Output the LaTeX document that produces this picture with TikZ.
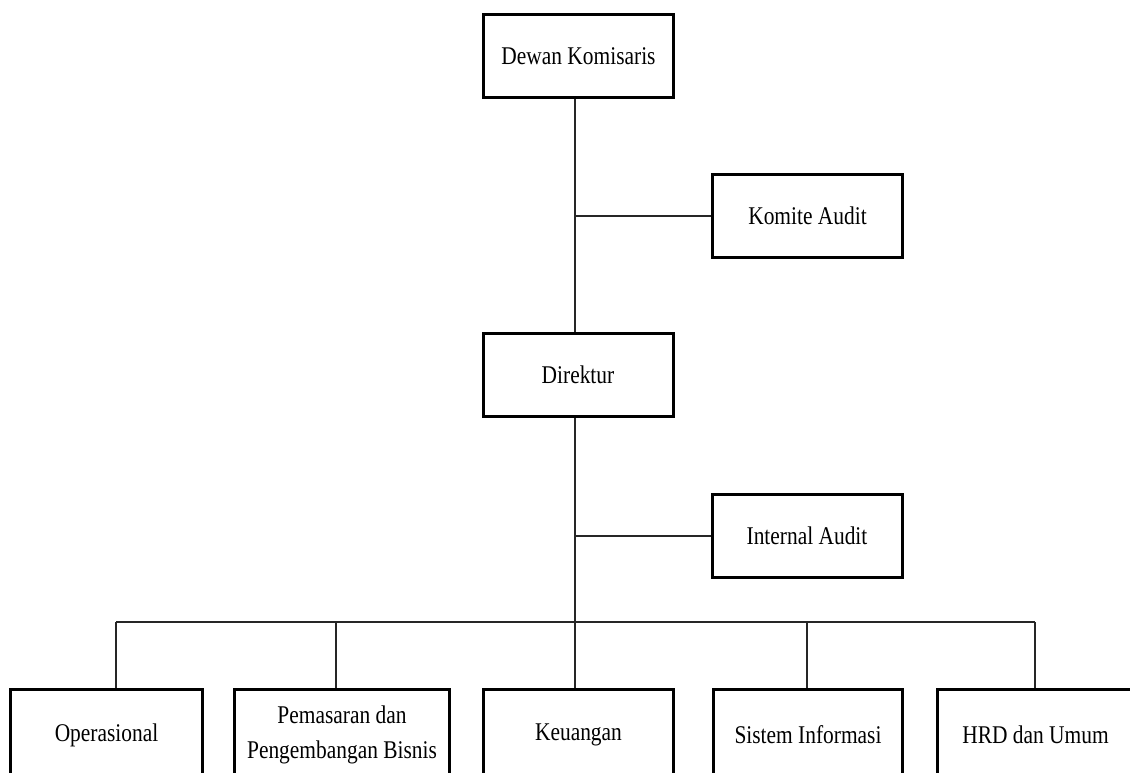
\documentclass[tikz,border=0pt]{standalone}
\usepackage{fontspec}
\setmainfont[FakeStretch=0.84]{Liberation Serif}
\begin{document}
\begin{tikzpicture}[x=1pt,y=-1pt,
  unit/.style={draw,line width=3pt,minimum width=190pt,minimum height=83pt,
    inner sep=0pt,align=center,font=\fontsize{25.5}{35}\selectfont},
  division/.style={unit,minimum height=91pt},
  conn/.style={line width=1.3pt,black!85}]
  \useasboundingbox (0,0) rectangle (1130,772);
  % top of the chart
  \node[unit] (dk) at (578.5,56) {Dewan Komisaris};
  \node[unit] (ka) at (807.5,216) {Komite Audit};
  \node[unit] (dir) at (578,375) {Direktur};
  \node[unit] (ia) at (807,536) {Internal Audit};
  % divisions
  \node[division,minimum width=192pt] (op) at (106.5,735) {Operasional};
  \node[division,minimum width=215pt] (pem) at (342,735) {Pemasaran dan\\Pengembangan Bisnis};
  \node[division] (keu) at (578.5,735) {Keuangan};
  \node[division,minimum width=189pt] (si) at (808,735) {Sistem Informasi};
  \node[division,minimum width=196pt] (hrd) at (1035.5,735) {HRD dan Umum};
  % lines
  \coordinate (spine) at (575,0);
  \draw[conn] (dk.south -| spine) -- (dir.north -| spine);
  \draw[conn] (ka.west) -- (ka.west -| spine);
  \draw[conn] (dir.south -| spine) -- (0,622 -| spine);
  \draw[conn] (ia.west) -- (ia.west -| spine);
  \foreach \n/\x in {op/116,pem/336,keu/575,si/807,hrd/1035}{
    \coordinate (\n-top) at (\x,622);
    \draw[conn] (\n-top) -- (\n-top |- \n.north);
  }
  \draw[conn] (op-top) -- (hrd-top);
\end{tikzpicture}
\end{document}
